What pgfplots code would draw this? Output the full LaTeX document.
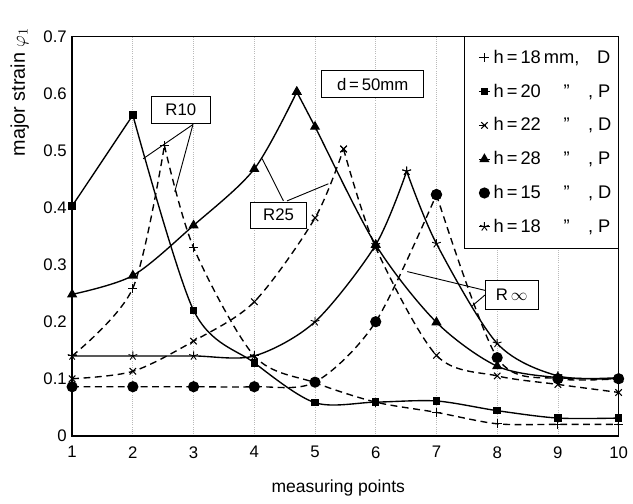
\documentclass[border=0pt]{standalone}
\usepackage{pgfplots}
\pgfplotsset{compat=1.18}
\usepackage{fontspec}
\setmainfont{Liberation Sans}
\begin{document}
\begin{tikzpicture}
\pgfplotsset{
  dsh/.style={dash pattern=on 4.5pt off 3pt},
  sPlusD/.style={black, line width=0.9pt, dsh, mark=+, mark size=3pt, mark options={solid, line width=0.7pt}},
  sSqP/.style={black, line width=0.9pt, solid, mark=square*, mark size=2pt, mark options={solid}},
  sXD/.style={black, line width=0.9pt, dsh, mark=x, mark size=3pt, mark options={solid, line width=0.7pt}},
  sTriP/.style={black, line width=0.9pt, solid, mark=triangle*, mark size=3pt, mark options={solid}},
  sCircD/.style={black, line width=0.9pt, dsh, mark=*, mark size=3.2pt, mark options={solid}},
  sStarP/.style={black, line width=0.9pt, solid, mark=star, mark size=3pt, mark options={solid, line width=0.6pt}},
}
\begin{axis}[
  scale only axis,
  width=358.8pt, height=262pt,
  xmin=1, xmax=10, ymin=0, ymax=0.7,
  xtick={1,2,3,4,5,6,7,8,9,10},
  xticklabels={1,2,3,4,5,6,7,8,9,10},
  ytick={0,0.1,0.2,0.3,0.4,0.5,0.6,0.7},
  yticklabels={0,0.1,0.2,0.3,0.4,0.5,0.6,0.7},
  tick style={draw=none},
  ticklabel style={font=\fontsize{11}{13}\selectfont},
  xticklabel style={yshift=-3.5pt},
  xmajorgrids,
  major grid style={densely dotted, gray!55, line width=0.5pt},
  axis line style={line width=1pt},
  clip=false,
  xlabel={measuring points},
  xlabel style={font=\fontsize{11.5}{13}\selectfont, at={(rel axis cs:0.487,-0.13)}, anchor=center},
  ylabel={major strain \(\varphi_1\)},
  ylabel style={font=\fontsize{13}{15}\selectfont, at={(rel axis cs:-0.096,0.862)}, anchor=center},
  legend style={at={(axis cs:8.81,0.5148)}, anchor=center, draw=none, fill=none,
    font=\fontsize{12}{14}\selectfont, inner xsep=0pt, inner ysep=0pt, row sep=8pt,
    cells={anchor=west}},
  legend image code/.code={\draw[mark repeat=2,mark phase=2,#1] plot coordinates {(0pt,0pt) (3.6pt,0pt) (7.2pt,0pt)};},
]
% h=18mm, D  (+, dashed)
\addplot[sPlusD, smooth] coordinates {(1,0.14) (2,0.259) (2.52,0.509)};
\addlegendentry{\makebox[68pt][l]{h\,=\,18\,mm,}D}
\addplot[sPlusD, smooth, forget plot] coordinates {(2.52,0.509) (3,0.33) (4,0.14) (5,0.093) (6,0.059) (7,0.041) (8,0.021) (9,0.02) (10,0.02)};
% h=20, P (squares, solid)
\addplot[sSqP] coordinates {(1,0.403) (2,0.5625)};
\addlegendentry{\makebox[46pt][l]{h\,=\,20}\makebox[16pt][l]{''},\ P}
\addplot[sSqP, smooth, forget plot] coordinates {(2,0.5625) (3,0.22) (4,0.128) (5,0.058) (6,0.059) (7,0.061) (8,0.044) (9,0.031) (10,0.031)};
% h=22, D (x, dashed)
\addplot[sXD, smooth] coordinates {(1,0.10) (2,0.113) (3,0.166) (4,0.235) (5,0.382) (5.47,0.503)};
\addlegendentry{\makebox[46pt][l]{h\,=\,22}\makebox[16pt][l]{''},\ D}
\addplot[sXD, smooth, forget plot] coordinates {(5.47,0.503) (6,0.33) (7,0.141) (8,0.105) (9,0.09) (10,0.076)};
% h=28, P (triangles, solid)
\addplot[sTriP, smooth] coordinates {(1,0.248) (2,0.281) (3,0.369) (4,0.468) (4.7,0.603)};
\addlegendentry{\makebox[46pt][l]{h\,=\,28}\makebox[16pt][l]{''},\ P}
\addplot[sTriP, smooth, forget plot] coordinates {(4.7,0.603) (5,0.542) (6,0.335) (7,0.199) (8,0.122) (9,0.102) (10,0.10)};
% h=15, D (circles, dashed)
\addplot[sCircD, smooth] coordinates {(1,0.086) (2,0.086) (3,0.086) (4,0.086) (5,0.094) (6,0.20) (7,0.423)};
\addlegendentry{\makebox[46pt][l]{h\,=\,15}\makebox[16pt][l]{''},\ D}
\addplot[sCircD, smooth, forget plot] coordinates {(7,0.423) (8,0.137) (9,0.10) (10,0.10)};
% h=18, P (stars, solid)
\addplot[sStarP, smooth] coordinates {(1,0.14) (2,0.14) (3,0.14) (4,0.14) (5,0.20) (6,0.335) (6.51,0.464)};
\addlegendentry{\makebox[46pt][l]{h\,=\,18}\makebox[16pt][l]{''},\ P}
\addplot[sStarP, smooth, forget plot] coordinates {(6.51,0.464) (7,0.337) (8,0.162) (9,0.105) (10,0.102)};

% legend frame
\draw[line width=0.8pt, fill=white] (axis cs:7.457,0.328) rectangle (axis cs:10,0.7);
% annotations
\node[draw, line width=0.6pt, minimum width=39pt, minimum height=17.5pt, inner sep=0pt, font=\fontsize{11}{13}\selectfont, fill=white] at (axis cs:2.79,0.572) {R10};
\draw[line width=0.6pt] (axis cs:2.99,0.546) -- (axis cs:2.17,0.486);
\draw[line width=0.6pt] (axis cs:2.99,0.546) -- (axis cs:2.69,0.428);
\node[draw, line width=0.6pt, minimum width=37pt, minimum height=17pt, inner sep=0pt, font=\fontsize{11}{13}\selectfont, fill=white] at (axis cs:4.40,0.387) {R25};
\draw[line width=0.6pt] (axis cs:4.48,0.412) -- (axis cs:4.13,0.486);
\draw[line width=0.6pt] (axis cs:4.54,0.412) -- (axis cs:5.22,0.442);
\node[draw, line width=0.6pt, minimum width=35pt, minimum height=18.5pt, inner sep=0pt, font=\fontsize{11}{13}\selectfont, fill=white] at (axis cs:8.24,0.247) {R\,\(\infty\)};
\draw[line width=0.6pt] (axis cs:7.80,0.255) -- (axis cs:6.52,0.288);
\draw[line width=0.6pt] (axis cs:7.80,0.247) -- (axis cs:7.58,0.227);
\node[draw, line width=0.6pt, minimum width=67pt, minimum height=18pt, inner sep=0pt, font=\fontsize{11}{13}\selectfont, fill=white] at (axis cs:5.95,0.617) {d\,=\,50mm};
% bounding box matching the reference proportions
\path (rel axis cs:-0.132,-0.171) rectangle (rel axis cs:1.0145,1.092);
\end{axis}
\end{tikzpicture}
\end{document}
